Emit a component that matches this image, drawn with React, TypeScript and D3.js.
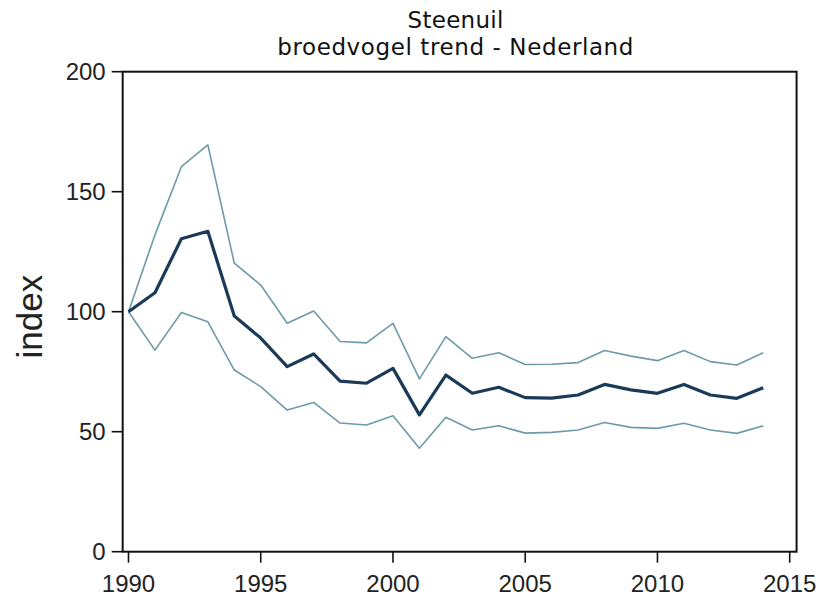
import React from "react";
import * as d3 from "d3";

const years = [1990,1991,1992,1993,1994,1995,1996,1997,1998,1999,2000,2001,2002,2003,2004,2005,2006,2007,2008,2009,2010,2011,2012,2013,2014];
const indexValues = [100,107.9,130.4,133.5,98.2,89.0,77.1,82.4,71.1,70.2,76.4,57.0,73.6,66.0,68.5,64.2,64.0,65.3,69.7,67.4,66.0,69.7,65.3,63.9,68.3];
const upperValues = [100,132,160.4,169.5,120.2,111.1,95.2,100.3,87.6,87.0,95.1,72.0,89.6,80.6,82.9,78.0,78.1,78.8,83.8,81.5,79.6,83.8,79.2,77.8,82.9];
const lowerValues = [100,84.0,99.7,95.8,75.7,68.8,59.0,62.2,53.6,52.8,56.6,43.1,56.0,50.7,52.5,49.4,49.7,50.7,53.8,51.8,51.4,53.5,50.7,49.3,52.5];
const xTicks = [1990,1995,2000,2005,2010,2015];
const yTicks = [0,50,100,150,200];
const title = "Steenuil";
const subtitle = "broedvogel trend - Nederland";
const yLabel = "index";

export default function App() {
  const W = 821, H = 596;
  const x = d3.scaleLinear().domain([1990, 2015]).range([128.5, 789.7]);
  const y = d3.scaleLinear().domain([0, 200]).range([551.7, 71.7]);
  const left = x(1989.78);
  const right = x(2015.26);
  const top = y(200);
  const bottom = y(0);
  const line = d3.line<number>().x((_, i) => x(years[i])).y((d) => y(d));
  const tickFont = "'Liberation Sans', Arial, sans-serif";
  const titleFont = "'DejaVu Sans', Verdana, sans-serif";
  const cx = (left + right) / 2 - 4;
  return (
    <div style={{ position: "absolute", left: 0, top: 0 }}>
      <svg width={W} height={H} viewBox={`0 0 ${W} ${H}`} style={{ display: "block", background: "#fff" }}>
        <text x={cx} y={28} textAnchor="middle" fontFamily={titleFont} fontSize={23} letterSpacing={0.3} fill="#111">{title}</text>
        <text x={cx} y={55} textAnchor="middle" fontFamily={titleFont} fontSize={23} letterSpacing={0.6} fill="#111">{subtitle}</text>
        <text transform={`translate(42,${y(100) + 5}) rotate(-90)`} textAnchor="middle" fontFamily={tickFont} fontSize={35} fill="#222">{yLabel}</text>
        <path d={line(upperValues) || ""} fill="none" stroke="#6d9aaa" strokeWidth={1.6} strokeLinejoin="round" />
        <path d={line(lowerValues) || ""} fill="none" stroke="#6d9aaa" strokeWidth={1.6} strokeLinejoin="round" />
        <path d={line(indexValues) || ""} fill="none" stroke="#1b3a58" strokeWidth={3.2} strokeLinejoin="round" />
        <rect x={left} y={top} width={right - left} height={bottom - top} fill="none" stroke="#111" strokeWidth={2} />
        {yTicks.map((t) => (
          <g key={"y" + t}>
            <line x1={left - 11} x2={left} y1={y(t)} y2={y(t)} stroke="#111" strokeWidth={1.6} />
            <text x={left - 17} y={y(t)} dy="0.36em" textAnchor="end" fontFamily={tickFont} fontSize={24} fill="#222">{t}</text>
          </g>
        ))}
        {xTicks.map((t) => (
          <g key={"x" + t}>
            <line x1={x(t)} x2={x(t)} y1={bottom} y2={bottom + 11} stroke="#111" strokeWidth={1.6} />
            <text x={x(t)} y={592} textAnchor="middle" fontFamily={tickFont} fontSize={24} fill="#222">{t}</text>
          </g>
        ))}
      </svg>
    </div>
  );
}
